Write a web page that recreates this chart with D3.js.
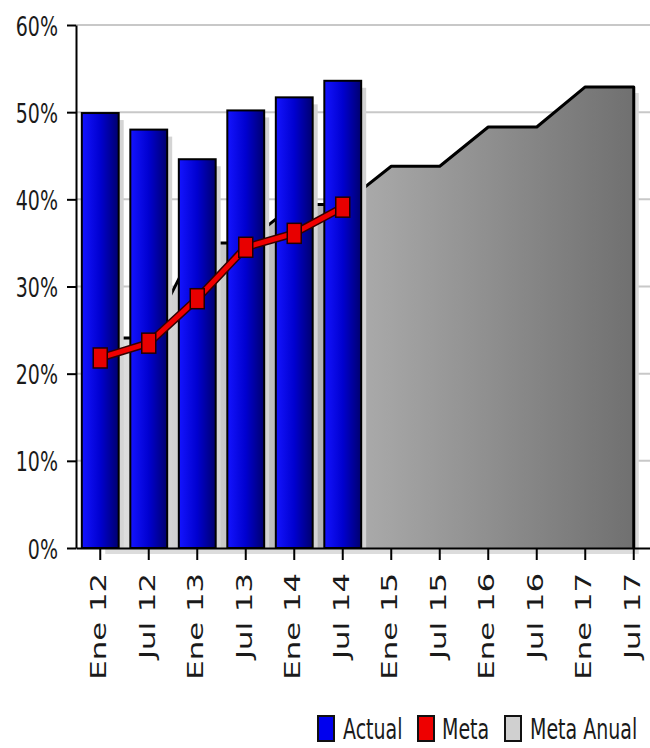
<!DOCTYPE html>
<html><head><meta charset="utf-8">
<script src="https://cdn.jsdelivr.net/npm/d3@7"></script>
<style>body{margin:0;background:#fff}svg{display:block}</style>
</head><body>
<svg id="c" width="650" height="748"></svg>
<script>
const categories = ["Ene 12","Jul 12","Ene 13","Jul 13","Ene 14","Jul 14","Ene 15","Jul 15","Ene 16","Jul 16","Ene 17","Jul 17"];
const actual = [0.499, 0.480, 0.446, 0.502, 0.517, 0.536];
const meta = [0.218, 0.235, 0.286, 0.345, 0.361, 0.391];
const metaAnual = [0.241, 0.241, 0.350, 0.350, 0.394, 0.394, 0.438, 0.438, 0.483, 0.483, 0.529, 0.529];
const yTicks = [0, 0.1, 0.2, 0.3, 0.4, 0.5, 0.6];
const legendLabels = ["Actual", "Meta", "Meta Anual"];
const legendColors = ["#0000ee", "#ee0000", "#d0d0d0"];

const svg = d3.select("#c");
const FONT = "DejaVu Sans, Verdana, sans-serif";
const x = d3.scaleBand().domain(categories).range([76, 658]).paddingInner(0.24).paddingOuter(0.12);
const y = d3.scaleLinear().domain([0, 0.6]).range([548, 25]);
const cx = d => x(d) + x.bandwidth() / 2;

const defs = svg.append("defs");
const ag = defs.append("linearGradient").attr("id", "areaG").attr("gradientUnits", "userSpaceOnUse")
  .attr("x1", cx(categories[0])).attr("x2", cx(categories[11])).attr("y1", 0).attr("y2", 0);
ag.append("stop").attr("offset", 0).attr("stop-color", "#e2e2e2");
ag.append("stop").attr("offset", 1).attr("stop-color", "#707070");
const bg = defs.append("linearGradient").attr("id", "barG").attr("x1", 0).attr("x2", 1).attr("y1", 0).attr("y2", 0);
bg.append("stop").attr("offset", 0).attr("stop-color", "#1414ff");
bg.append("stop").attr("offset", 0.5).attr("stop-color", "#0000d0");
bg.append("stop").attr("offset", 1).attr("stop-color", "#00006e");

// gridlines
svg.append("g").selectAll("line").data(yTicks.slice(1)).join("line")
  .attr("x1", 76).attr("x2", 650).attr("y1", d => y(d)).attr("y2", d => y(d))
  .attr("stroke", "#c8c8c8").attr("stroke-width", 2);

// area (Meta Anual)
const areaData = categories.map((c, i) => ({c, v: metaAnual[i]}));
const area = d3.area().x(d => cx(d.c)).y0(y(0)).y1(d => y(d.v));
svg.append("path").datum(areaData).attr("d", area).attr("fill", "#dcdcdc").attr("transform", "translate(5,6)");
svg.append("path").datum(areaData).attr("d", area).attr("fill", "url(#areaG)");
const last = areaData[areaData.length - 1];
const topLine = d3.line().x(d => cx(d.c)).y(d => y(d.v));
svg.append("path").datum(areaData).attr("d", topLine(areaData) + `L${cx(last.c)},${y(0)}`)
  .attr("fill", "none").attr("stroke", "#000").attr("stroke-width", 3).attr("stroke-linejoin", "round");

// bars (Actual)
const barData = actual.map((v, i) => ({c: categories[i], v}));
svg.append("g").selectAll("rect").data(barData).join("rect")
  .attr("x", d => x(d.c) + 5).attr("y", d => y(d.v) + 7).attr("width", x.bandwidth())
  .attr("height", d => y(0) - y(d.v) - 7).attr("fill", "#d4d4d4");
svg.append("g").selectAll("rect").data(barData).join("rect")
  .attr("x", d => x(d.c)).attr("y", d => y(d.v)).attr("width", x.bandwidth())
  .attr("height", d => y(0) - y(d.v)).attr("fill", "url(#barG)")
  .attr("stroke", "#000").attr("stroke-width", 2);

// line (Meta)
const lineData = meta.map((v, i) => ({c: categories[i], v}));
svg.append("path").datum(lineData).attr("d", topLine).attr("fill", "none")
  .attr("stroke", "#300").attr("stroke-width", 8).attr("stroke-linejoin", "round");
svg.append("path").datum(lineData).attr("d", topLine).attr("fill", "none")
  .attr("stroke", "#f00000").attr("stroke-width", 5).attr("stroke-linejoin", "round");
svg.append("g").selectAll("rect").data(lineData).join("rect")
  .attr("x", d => cx(d.c) - 7).attr("y", d => y(d.v) - 10).attr("width", 14).attr("height", 20)
  .attr("fill", "#e80000").attr("stroke", "#200").attr("stroke-width", 1.5);

// axes
const yAxis = svg.append("g").attr("transform", "translate(76,0)")
  .call(d3.axisLeft(y).tickValues(yTicks).tickFormat(d3.format(".0%")).tickSize(9).tickSizeOuter(0));
const xAxis = svg.append("g").attr("transform", `translate(0,${y(0)})`)
  .call(d3.axisBottom(x).tickSize(12).tickSizeOuter(0));
[yAxis, xAxis].forEach(a => {
  a.select(".domain").attr("stroke", "#000").attr("stroke-width", 2);
  a.selectAll(".tick line").attr("stroke", "#000").attr("stroke-width", 2);
});
yAxis.selectAll(".tick text").attr("x", null).attr("dy", null)
  .attr("transform", "translate(-18,10) scale(0.95,1.37)")
  .attr("font-family", FONT).attr("font-size", 20).attr("fill", "#1a1a1a").attr("text-anchor", "end");
xAxis.selectAll(".tick text").attr("y", null).attr("dy", null)
  .attr("transform", "translate(6,25) rotate(-90) scale(1.5,1)")
  .attr("font-family", FONT).attr("font-size", 20.5).attr("fill", "#1a1a1a").attr("text-anchor", "end");

// legend
const lx = [318, 418, 505], tx = [343, 442, 530];
const lg = svg.append("g");
legendLabels.forEach((t, i) => {
  lg.append("rect").attr("x", lx[i]).attr("y", 716).attr("width", 16).attr("height", 25)
    .attr("fill", legendColors[i]).attr("stroke", "#111").attr("stroke-width", 2);
  lg.append("text").attr("transform", `translate(${tx[i]},739) scale(1,1.5)`)
    .attr("font-family", FONT).attr("font-size", 19).attr("fill", "#1a1a1a").text(t);
});
</script>
</body></html>
